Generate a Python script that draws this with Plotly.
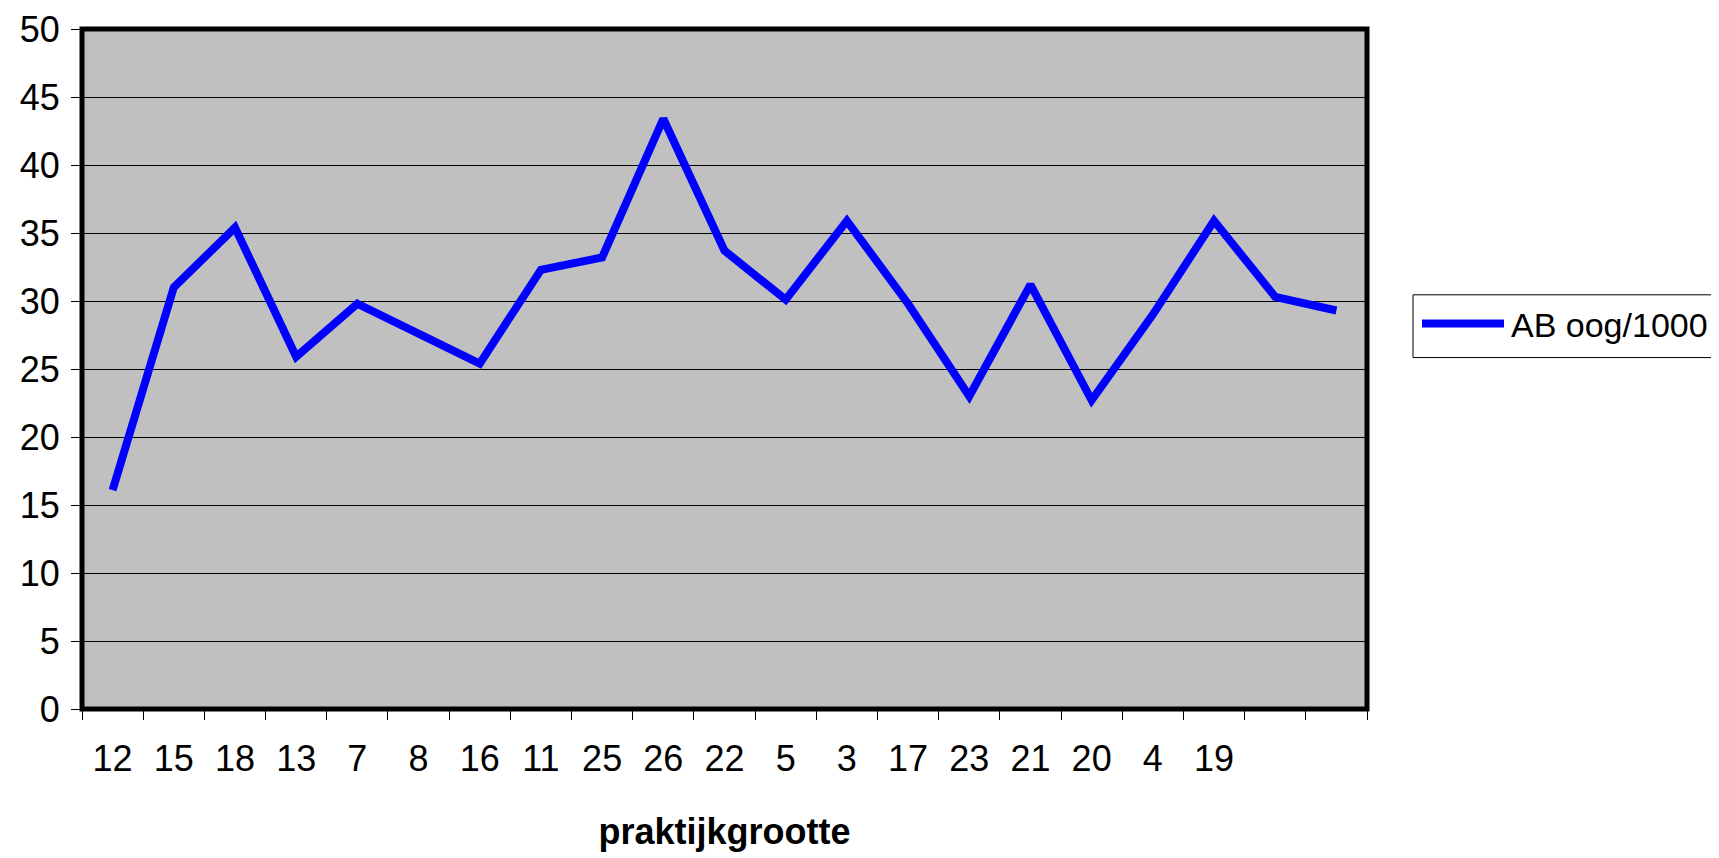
import plotly.graph_objects as go

# praktijk numbers along the x axis (last two practices unlabeled)
practices = ["12", "15", "18", "13", "7", "8", "16", "11", "25", "26", "22",
             "5", "3", "17", "23", "21", "20", "4", "19", "", ""]
ab_oog = [16.1, 31.0, 35.4, 25.9, 29.8, 27.6, 25.4, 32.3, 33.2, 43.4, 33.7,
          30.1, 35.9, 29.8, 23.0, 31.2, 22.7, 29.0, 35.9, 30.3, 29.3]
y_ticks = [0, 5, 10, 15, 20, 25, 30, 35, 40, 45, 50]
series_name = "AB oog/1000"

FONT = "Arial, Liberation Sans, sans-serif"
positions = list(range(len(practices)))

fig = go.Figure()
fig.add_trace(
    go.Scatter(
        x=positions,
        y=ab_oog,
        mode="lines",
        name=series_name,
        line=dict(color="#0000FF", width=8),
        hoverinfo="y",
        showlegend=False,
    )
)

# page body has an 8px margin, so the figure is a bit smaller than the window
fig.update_layout(
    width=1711,
    height=850,
    paper_bgcolor="white",
    plot_bgcolor="#C0C0C0",
    margin=dict(l=74, r=352, t=21, b=149, autoexpand=False),
    font=dict(family=FONT, size=36, color="black"),
    xaxis=dict(
        range=[-0.5, len(practices) - 0.5],
        tickvals=positions,
        ticktext=practices,
        ticks="",
        showgrid=False,
        zeroline=False,
        automargin=False,
        ticklabelstandoff=25,
        minor=dict(tickmode="linear", tick0=-0.5, dtick=1, ticks="outside",
                   ticklen=10, tickcolor="black", tickwidth=1, showgrid=False),
        title=dict(text="<b>praktijkgrootte</b>", font=dict(size=36), standoff=40),
    ),
    yaxis=dict(
        range=[0, 50],
        tickvals=y_ticks,
        ticks="outside",
        ticklen=10,
        tickcolor="black",
        showgrid=True,
        gridcolor="black",
        gridwidth=1,
        zeroline=False,
        automargin=False,
        ticklabeloverflow="allow",
        ticklabelstandoff=4,
    ),
)

# heavy frame around the plot area
fig.add_shape(type="rect", xref="paper", yref="paper", x0=0, x1=1, y0=0, y1=1,
              line=dict(color="black", width=5), layer="above")

# legend box drawn by hand so the line sample is as long as in the original
fig.add_shape(type="rect", xref="paper", yref="paper", x0=1.0358, x1=1.2708,
              y0=0.5168, y1=0.6091, line=dict(color="black", width=1),
              fillcolor="white")
fig.add_shape(type="line", xref="paper", yref="paper", x0=1.0428, x1=1.1066,
              y0=0.567, y1=0.567, line=dict(color="#0000FF", width=8))
fig.add_annotation(text=series_name, xref="paper", yref="paper", x=1.1105,
                   y=0.565, xanchor="left", yanchor="middle", showarrow=False,
                   font=dict(size=34))

fig.write_html("out.html")
